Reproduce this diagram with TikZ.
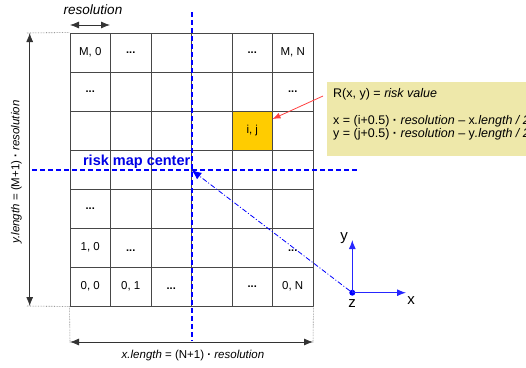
\documentclass[tikz,border=0pt]{standalone}
\usepackage{fontspec}
\setmainfont{Liberation Sans}
\usetikzlibrary{arrows.meta}
\definecolor{gold}{HTML}{FFCC00}
\definecolor{notebg}{HTML}{EEE8AA}
\definecolor{pureblue}{HTML}{0000FF}
\definecolor{redline}{HTML}{FF4040}
\begin{document}
\begin{tikzpicture}[x=1pt,y=-1pt,
  font=\fontsize{11.5}{13}\selectfont,
  cell/.style={draw=black!72, line width=0.9pt, minimum width=40.5pt, minimum height=39pt, inner sep=0pt},
  ctext/.style={inner sep=0pt, font=\fontsize{11.5}{13}\selectfont},
  dots/.style={inner sep=0pt, font=\bfseries\fontsize{11}{13}\selectfont},
  dimarrow/.style={line width=0.8pt, black!80, {Latex[length=9pt,width=7pt]}-{Latex[length=9pt,width=7pt]}},
  helper/.style={densely dotted, black!60, line width=0.6pt},
  centerline/.style={pureblue, line width=2pt, dash pattern=on 5pt off 3pt},
  axis/.style={pureblue!85, line width=1pt, -{Latex[length=9pt,width=7pt]}},
  lbl/.style={inner sep=0pt, font=\itshape\fontsize{13.5}{15}\selectfont},
  dimlbl/.style={inner sep=0pt, font=\fontsize{11.5}{13}\selectfont},
  notetext/.style={anchor=base west, inner sep=0pt, font=\fontsize{12.5}{14}\selectfont}
]
\useasboundingbox (0,0) rectangle (526,367);

% grid cells
\foreach \r in {0,...,6}{
  \foreach \c in {0,...,5}{
    \node[cell] (c\r\c) at ({70+40.5*(\c+0.5)},{33+39*(\r+0.5)}) {};
  }
}
\node[cell, fill=gold] (cij) at (c24) {};

% cell texts
\node[ctext] (t1) at (c00) {M, 0};
\node[dots]  (t2) at (c01) {...};
\node[dots]  (t3) at (c04) {...};
\node[ctext] (t4) at (c05) {M, N};
\node[dots]  (t5) at (c10) {...};
\node[dots]  (t6) at (c15) {...};
\node[ctext] (t7) at (cij) {i, j};
\node[dots]  (t8) at (c40) {...};
\node[ctext] (t9) at (c50) {1, 0};
\node[dots]  (t9b) at ([yshift=-3pt]c51) {...};
\node[dots]  (t10) at ([yshift=-3pt]c55) {...};
\node[ctext] (t11) at (c60) {0, 0};
\node[ctext] (t12) at (c61) {0, 1};
\node[dots]  (t13) at ([yshift=-2pt]c62) {...};
\node[dots]  (t14) at (c64) {...};
\node[ctext] (t15) at (c65) {0, N};

% dimension helpers (left)
\coordinate (lt) at (27,33);
\coordinate (lb) at (27,306);
\draw[helper] (lt) -- (c00.north west);
\draw[helper] (lb) -- (c60.south west);
\coordinate (la) at (29.7,33);
\coordinate (lz) at (29.7,306);
\draw[dimarrow] (la) -- (lz);
\node[dimlbl, rotate=90] (ylen) at (16.5,172)
  {\textit{y.length} = (M+1) \textbf{·} \textit{resolution}};

% dimension helpers (bottom)
\coordinate (bl) at (70,342);
\coordinate (br) at (313,342);
\draw[helper] (c60.south west) -- (70,343);
\draw[helper] (c65.south east) -- (313,343);
\draw[dimarrow] (bl) -- (br);
\node[dimlbl] (xlen) at (193,356)
  {\textit{x.length} = (N+1) \textbf{·} \textit{resolution}};

% resolution
\node[lbl] (res) at (93,10) {resolution};
\coordinate (ra) at (70,25);
\coordinate (rb) at (110,25);
\draw[dimarrow] (ra) -- (rb);

% center lines
\coordinate (vt) at (191.5,12);
\coordinate (vb) at (191.5,341);
\coordinate (hl) at (32,170);
\coordinate (hr) at (357,170);
\draw[centerline] (vt) -- (vb);
\draw[centerline] (hl) -- (hr);
\coordinate (ctr) at (191.5,170);
\node[anchor=base east, inner sep=0pt, text=pureblue!90!black, font=\bfseries\fontsize{14.5}{16}\selectfont] (rmc) at (190.5,165.5) {risk map center};

% note
\begin{scope}
  \clip (0,0) rectangle (526,367);
  \node[fill=notebg, anchor=north west, minimum width=230pt, minimum height=74pt, inner sep=0pt] (note) at (327,82) {};
  \node[notetext] (n1) at (333,97) {R(x, y) = \textit{risk value}};
  \node[notetext] (n2) at (333,124) {x = (i+0.5) \textbf{·} \textit{resolution} – x\textit{.length / 2}};
  \node[notetext] (n3) at (333,137) {y = (j+0.5) \textbf{·} \textit{resolution} – y\textit{.length / 2}};
\end{scope}
\coordinate (rp) at (323,96);
\coordinate (rt) at (272.5,119);
\draw[redline, line width=0.8pt, -{Latex[length=8pt,width=6pt]}] (rp) -- (rt);

% axes
\node[circle, fill=pureblue, inner sep=0pt, minimum size=6pt] (o) at (352.3,292.7) {};
\coordinate (ytip) at (352.3,240);
\coordinate (xtip) at (406,292.7);
\draw[axis] (o.center) -- (ytip);
\draw[axis] (o.center) -- (xtip);
\node[inner sep=0pt, font=\fontsize{15}{17}\selectfont] (ylab) at (344,238) {y};
\node[inner sep=0pt, font=\fontsize{15}{17}\selectfont] (xlab) at (411,301) {x};
\node[inner sep=0pt, font=\fontsize{15}{17}\selectfont] (zlab) at (352,304) {z};

% pointer to center
\draw[pureblue, line width=0.8pt, dash pattern=on 5pt off 2pt on 1pt off 2pt, -{Latex[length=10pt,width=8pt]}] (o) -- (ctr);
\end{tikzpicture}
\end{document}
